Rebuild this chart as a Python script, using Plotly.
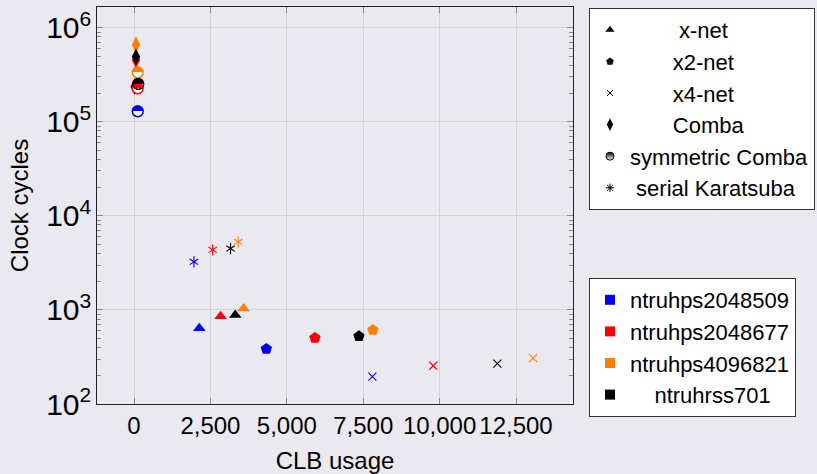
import plotly.graph_objects as go

# ---------------- data ----------------
series_names = ["ntruhps2048509", "ntruhps2048677", "ntruhps4096821", "ntruhrss701"]
series_colors = ["#0000FF", "#FF0000", "#FF8000", "#000000"]

# x-net (triangles)
xnet_clb = [2137, 2834, 3585, 3313]
xnet_cycles = [638, 857, 1033, 885]
# x2-net (pentagons)
x2net_clb = [4330, 5920, 7815, 7360]
x2net_cycles = [385, 504, 612, 525]
# x4-net (crosses)
x4net_clb = [7800, 9790, 13060, 11890]
x4net_cycles = [195, 255, 308, 268]
# Comba (diamonds)
comba_clb = [20, 65, 65, 65]
comba_cycles = [236000, 453000, 660000, 490000]
# symmetric Comba (half circles)
symcomba_clb = [120, 120, 120, 137]
symcomba_cycles = [129000, 226000, 334000, 253000]
# serial Karatsuba (asterisks)
serial_clb = [1962, 2573, 3410, 3160]
serial_cycles = [3245, 4350, 5290, 4490]

x_ticks = [0, 2500, 5000, 7500, 10000, 12500]
method_names = ["x-net", "x2-net", "x4-net", "Comba", "symmetric Comba", "serial Karatsuba"]

NB = "\u00a0"
FONT = "Liberation Sans, Arial, Helvetica, sans-serif"
BG = "#E9E9EF"
GRID = "#D2D2D7"
TICKC = "#8A8A8A"

fig = go.Figure()

# ---------------- data traces ----------------
fig.add_trace(go.Scatter(x=xnet_clb, y=xnet_cycles, mode="markers", showlegend=False,
                         marker=dict(symbol="triangle-up", size=11, color=series_colors, line=dict(width=0))))
fig.add_trace(go.Scatter(x=x2net_clb, y=x2net_cycles, mode="markers", showlegend=False,
                         marker=dict(symbol="pentagon", size=12, color=series_colors, line=dict(width=0))))
fig.add_trace(go.Scatter(x=x4net_clb, y=x4net_cycles, mode="markers", showlegend=False,
                         marker=dict(symbol="x-thin-open", size=8, color=series_colors,
                                     line=dict(width=1.1, color=series_colors))))
fig.add_trace(go.Scatter(x=comba_clb, y=comba_cycles, mode="markers", showlegend=False,
                         marker=dict(symbol="diamond-tall", size=12, color=series_colors, line=dict(width=0))))
# symmetric Comba: white disc with coloured outline + upper half filled glyph
fig.add_trace(go.Scatter(x=symcomba_clb, y=symcomba_cycles, mode="markers", showlegend=False,
                         marker=dict(symbol="circle", size=11, color="white",
                                     line=dict(width=1.2, color=series_colors))))
fig.add_trace(go.Scatter(x=symcomba_clb, y=symcomba_cycles, mode="text", showlegend=False,
                         text=["\u25D3"] * len(symcomba_clb), textposition="middle center",
                         textfont=dict(family="DejaVu Sans", size=15, color=series_colors)))
# serial Karatsuba: six-armed asterisk
for sym in ["y-up-open", "y-down-open"]:
    fig.add_trace(go.Scatter(x=serial_clb, y=serial_cycles, mode="markers", showlegend=False,
                             marker=dict(symbol=sym, size=7, color=series_colors,
                                         line=dict(width=1.1, color=series_colors))))

# ---------------- legend 1 (methods, black symbols) ----------------
legend1_labels = [NB * 8 + method_names[0], NB * 7 + method_names[1], NB * 7 + method_names[2],
                  NB * 7 + method_names[3], method_names[4], NB * 1 + method_names[5]]
legend1_markers = [
    dict(symbol="triangle-up", size=8, color="black", line=dict(width=0)),
    dict(symbol="pentagon", size=8, color="black", line=dict(width=0)),
    dict(symbol="x-thin-open", size=6, color="black", line=dict(width=1, color="black")),
    dict(symbol="diamond-tall", size=9, color="black", line=dict(width=0)),
    dict(symbol="circle", size=8, color="black", gradient=dict(type="vertical", color="white"),
         line=dict(width=1, color="black")),
    dict(symbol="asterisk-open", size=7, color="black", line=dict(width=1, color="black")),
]
for lab, mk in zip(legend1_labels, legend1_markers):
    fig.add_trace(go.Scatter(x=[None], y=[None], mode="markers", name=lab, marker=mk,
                             legend="legend", showlegend=True))

# ---------------- legend 2 (series colours) ----------------
legend2_labels = [series_names[0], series_names[1], series_names[2], NB * 4 + series_names[3]]
for lab, col in zip(legend2_labels, series_colors):
    fig.add_trace(go.Scatter(x=[None], y=[None], mode="markers", name=lab,
                             marker=dict(symbol="square", size=10, color=col, line=dict(width=0)),
                             legend="legend2", showlegend=True))

fig.update_layout(
    width=817, height=474,
    margin=dict(l=97, r=244, t=7, b=70, autoexpand=False),
    paper_bgcolor=BG, plot_bgcolor=BG,
    font=dict(family=FONT, size=24, color="black"),
    legend=dict(x=1.0336, y=0.9975, xanchor="left", yanchor="top",
                bgcolor="white", bordercolor="#333333", borderwidth=1,
                font=dict(family=FONT, size=22, color="black"), traceorder="normal"),
    legend2=dict(x=1.0336, y=0.3174, xanchor="left", yanchor="top",
                 bgcolor="white", bordercolor="#333333", borderwidth=1,
                 font=dict(family=FONT, size=22, color="black"), traceorder="normal"),
)

fig.update_xaxes(
    range=[-1211, 14365], tickmode="array", tickvals=x_ticks, tickformat=",d",
    ticks="inside", ticklen=6, tickcolor=TICKC, tickwidth=1, automargin=False,
    showline=True, linecolor="#222222", linewidth=1, mirror="allticks",
    showgrid=True, gridcolor=GRID, gridwidth=1, zeroline=False,
    title=dict(text="CLB usage", standoff=14, font=dict(size=24)),
)
fig.update_yaxes(
    type="log", range=[2, 6.22], dtick=1, exponentformat="power", showexponent="all",
    ticks="inside", ticklen=6, tickcolor=TICKC, tickwidth=1, automargin=False,
    minor=dict(ticks="inside", ticklen=4, tickcolor=TICKC, showgrid=False),
    showline=True, linecolor="#222222", linewidth=1, mirror="allticks",
    showgrid=True, gridcolor=GRID, gridwidth=1, zeroline=False,
    title=dict(text="Clock cycles", standoff=10, font=dict(size=24)),
)

page_fix = ("document.documentElement.style.margin='0';document.body.style.margin='0';"
            "document.documentElement.style.background='%s';document.body.style.background='%s';" % (BG, BG))
fig.write_html("out.html", post_script=page_fix, config={"displayModeBar": False})
